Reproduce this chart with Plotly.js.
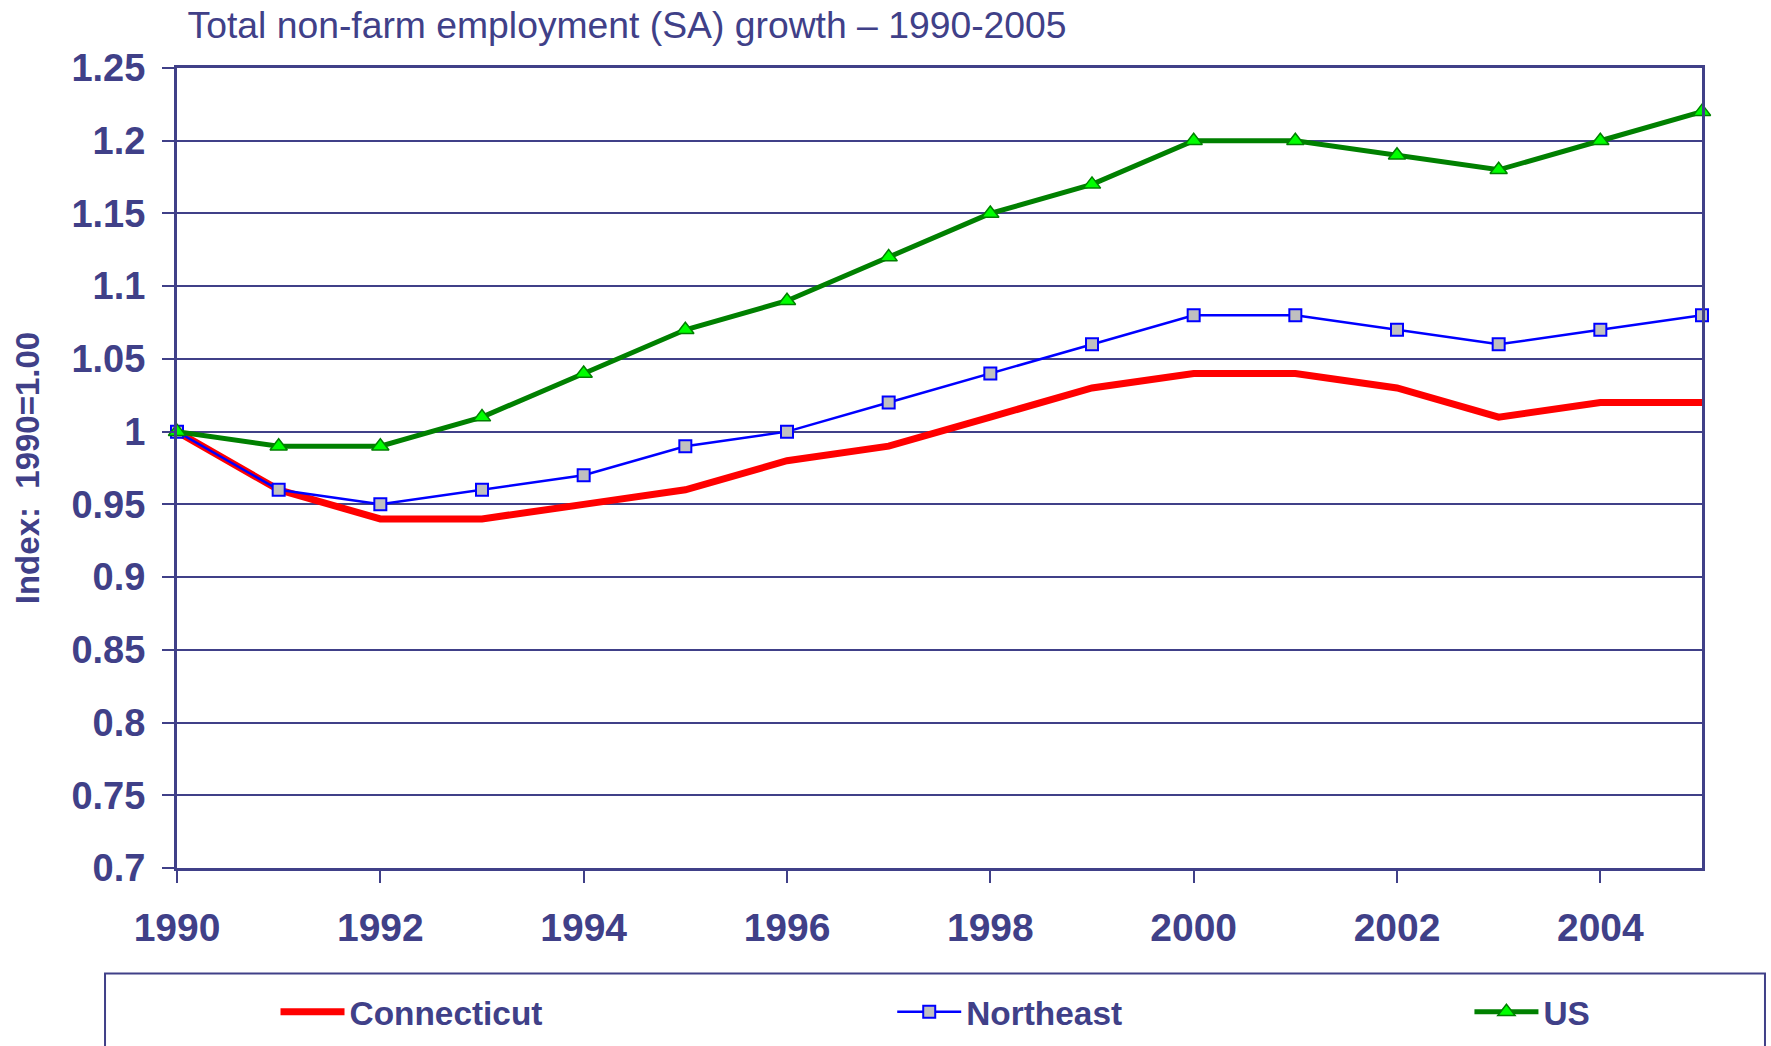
<!DOCTYPE html>
<html>
<head>
<meta charset="utf-8">
<script src="https://cdn.plot.ly/plotly-3.0.1.min.js"></script>
<style>html,body{margin:0;padding:0;background:#fff;}#chart{width:1771px;height:1046px;}</style>
</head>
<body>
<div id="chart"></div>
<script>
const years = [1990,1991,1992,1993,1994,1995,1996,1997,1998,1999,2000,2001,2002,2003,2004,2005];
const connecticut = [1.00,0.96,0.94,0.94,0.95,0.96,0.98,0.99,1.01,1.03,1.04,1.04,1.03,1.01,1.02,1.02];
const northeast   = [1.00,0.96,0.95,0.96,0.97,0.99,1.00,1.02,1.04,1.06,1.08,1.08,1.07,1.06,1.07,1.08];
const us          = [1.00,0.99,0.99,1.01,1.04,1.07,1.09,1.12,1.15,1.17,1.20,1.20,1.19,1.18,1.20,1.22];
const yTickVals = [0.7,0.75,0.8,0.85,0.9,0.95,1,1.05,1.1,1.15,1.2,1.25];
const yTickText = ['0.7','0.75','0.8','0.85','0.9','0.95','1','1.05','1.1','1.15','1.2','1.25'];
const xTickVals = [1990,1992,1994,1996,1998,2000,2002,2004];
const xTickText = ['1990','1992','1994','1996','1998','2000','2002','2004'];

const NAVY = '#404088';
const FONT = '"Liberation Sans", Arial, sans-serif';

const traces = [
  {x: years, y: connecticut, name: 'Connecticut', type: 'scatter', mode: 'lines',
   line: {color: '#ff0000', width: 7}, cliponaxis: false, legend: 'legend'},
  {x: years, y: northeast, name: 'Northeast', type: 'scatter', mode: 'lines+markers',
   line: {color: '#0000ff', width: 2.5},
   marker: {symbol: 'square', size: 12, color: '#c0c0c0', line: {color: '#0000ff', width: 2}},
   cliponaxis: false, legend: 'legend2'},
  {x: years, y: us, name: 'US', type: 'scatter', mode: 'lines+markers',
   line: {color: '#008000', width: 5},
   marker: {symbol: 'triangle-up', size: 15, color: '#00ff00', line: {color: '#008000', width: 1.5}},
   cliponaxis: false, legend: 'legend3'}
];

function legendAt(x) {
  return {
    orientation: 'h', x: x, xanchor: 'left', y: -0.18, yanchor: 'middle',
    font: {family: FONT, size: 33.4, color: NAVY, weight: 'bold'},
    borderwidth: 0, bgcolor: 'rgba(0,0,0,0)', itemwidth: 64
  };
}

const layout = {
  width: 1771, height: 1046,
  margin: {l: 177, r: 69, t: 68, b: 178, pad: 0, autoexpand: false},
  paper_bgcolor: '#ffffff', plot_bgcolor: '#ffffff',
  font: {family: FONT, color: NAVY},
  showlegend: true,
  title: {text: 'Total non-farm employment (SA) growth \u2013 1990-2005',
    x: 0.1059, xanchor: 'left', xref: 'container',
    y: 0.976, yanchor: 'middle', yref: 'container',
    font: {family: FONT, size: 37.3, color: NAVY}},
  xaxis: {
    range: [1990, 2005], tickmode: 'array', tickvals: xTickVals, ticktext: xTickText,
    ticks: 'outside', ticklen: 12, tickwidth: 2, tickcolor: NAVY,
    showline: true, linecolor: NAVY, linewidth: 3, mirror: true,
    showgrid: false, zeroline: false,
    tickfont: {family: FONT, size: 39, color: NAVY, weight: 'bold'},
    ticklabelstandoff: 11
  },
  yaxis: {
    range: [0.7, 1.25], tickmode: 'array', tickvals: yTickVals, ticktext: yTickText,
    ticks: 'outside', ticklen: 12, tickwidth: 2, tickcolor: NAVY,
    showline: true, linecolor: NAVY, linewidth: 3, mirror: true,
    showgrid: true, gridcolor: NAVY, gridwidth: 2, zeroline: false,
    tickfont: {family: FONT, size: 38, color: NAVY, weight: 'bold'},
    ticklabelstandoff: 9,
    title: {text: 'Index:  1990=1.00', standoff: 22,
      font: {family: FONT, size: 33, color: NAVY, weight: 'bold'}}
  },
  legend: legendAt(0.0646),
  legend2: legendAt(0.469),
  legend3: legendAt(0.8475),
  shapes: [
    {type: 'rect', xref: 'paper', yref: 'paper', x0: -0.0472, x1: 1.0413, y0: -0.132, y1: -0.245,
     line: {color: NAVY, width: 2}, fillcolor: 'rgba(0,0,0,0)', layer: 'below'}
  ]
};

Plotly.newPlot('chart', traces, layout, {displayModeBar: false, staticPlot: true});
</script>
</body>
</html>
